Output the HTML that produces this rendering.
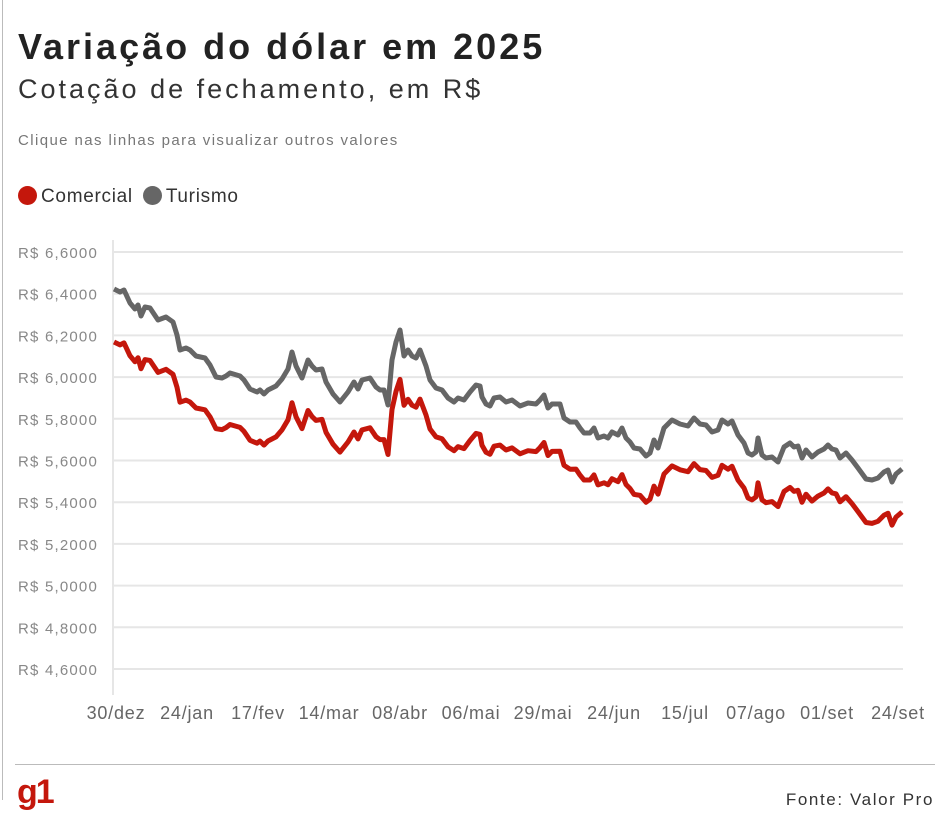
<!DOCTYPE html>
<html><head><meta charset="utf-8"><style>
body{margin:0;width:950px;height:815px;background:#fff;font-family:"Liberation Sans",sans-serif;position:relative;overflow:hidden}
.t{position:absolute;left:18px;white-space:nowrap}
</style></head><body>
<div style="position:absolute;left:2px;top:0;width:1px;height:800px;background:#bbb"></div>
<div class="t" style="top:26px;font-size:36px;font-weight:bold;color:#222;letter-spacing:3px">Variação do dólar em 2025</div>
<div class="t" style="top:74px;font-size:27px;color:#333;letter-spacing:3px">Cotação de fechamento, em R$</div>
<div class="t" style="top:132px;font-size:15px;color:#777;letter-spacing:1.4px">Clique nas linhas para visualizar outros valores</div>
<div class="t" style="top:186px;font-size:19px;color:#333;letter-spacing:0.7px"><span style="display:inline-block;width:19px;height:19px;border-radius:50%;background:#c4170c;vertical-align:-3px;margin-right:4px"></span>Comercial <span style="display:inline-block;width:19px;height:19px;border-radius:50%;background:#666;vertical-align:-3px;margin:0 4px 0 4px"></span>Turismo</div>
<svg id="s" width="950" height="815" style="position:absolute;left:0;top:0" font-family="Liberation Sans, sans-serif"></svg>
<div style="position:absolute;left:15px;top:764px;width:920px;height:1px;background:#bbb"></div>
<div style="position:absolute;left:17px;top:773px;font-size:34px;font-weight:bold;color:#c4170c;letter-spacing:-2px">g1</div>
<div style="position:absolute;right:16px;top:790px;font-size:17px;color:#333;letter-spacing:1.6px">Fonte: Valor Pro</div>
<script>
var s=document.getElementById('s'),h='';
var labs=['6,6000','6,4000','6,2000','6,0000','5,8000','5,6000','5,4000','5,2000','5,0000','4,8000','4,6000'];
for(var i=0;i<11;i++){var y=252+i*41.7;h+='<line x1="112" x2="903" y1="'+y+'" y2="'+y+'" stroke="#e6e6e6" stroke-width="2"/>';h+='<text x="18" y="'+(y+6)+'" font-size="15" letter-spacing="1.2" fill="#888">R$ '+labs[i]+'</text>';}
h+='<line x1="113" x2="113" y1="240" y2="695" stroke="#e6e6e6" stroke-width="2"/>';
var xl=[['30/dez',116],['24/jan',187],['17/fev',258],['14/mar',329],['08/abr',400],['06/mai',471],['29/mai',543],['24/jun',614],['15/jul',685],['07/ago',756],['01/set',827],['24/set',898]];
xl.forEach(function(a){h+='<text x="'+a[1]+'" y="719" font-size="18" letter-spacing="0.8" fill="#666" text-anchor="middle">'+a[0]+'</text>';});
var g=[114,289,120,292,124,290,130,303,135,309,138,305,141,316,145,307,150,308,158,320,166,317,173,322,177,335,180,350,186,348,190,350,196,356,205,358,210,365,216,377,222,378,226,376,230,373,240,376,244,380,246,383,250,389,257,392,260,390,264,394,268,390,276,386,282,379,288,369,292,352,296,366,302,378,308,360,312,366,316,370,322,369,326,382,333,394,340,402,348,392,354,382,358,389,362,380,370,378,376,387,380,390,384,390,388,405,392,360,396,342,400,330,404,356,408,350,412,356,416,358,420,350,426,366,430,380,436,388,442,390,448,398,454,402,458,398,464,400,470,392,476,385,480,386,482,397,486,404,490,406,494,398,500,397,506,402,512,400,520,406,528,403,536,404,540,400,544,395,548,408,552,404,560,404,564,418,570,422,576,422,580,428,584,433,590,433,594,428,598,438,604,436,608,438,612,432,618,435,622,428,626,438,630,442,634,448,640,449,646,456,650,453,654,440,658,448,664,428,672,420,680,424,688,426,694,418,700,424,706,425,712,432,718,430,722,420,728,424,732,421,738,435,744,443,748,453,752,455,756,452,758,438,762,455,766,458,772,457,778,462,784,447,790,443,794,447,798,446,802,458,806,450,812,457,818,452,824,449,828,445,832,449,836,450,840,458,846,453,852,460,858,468,866,479,872,480,878,478,884,472,888,470,892,482,896,474,902,469];
var gp='',rp='';
for(var i=0;i<g.length;i+=2){var x=g[i],y=g[i+1];gp+=x+','+y+' ';var off=53-10*(x-114)/788;rp+=x+','+(y+off).toFixed(1)+' ';}
h+='<polyline points="'+gp+'" fill="none" stroke="#666" stroke-width="5" stroke-linejoin="round"/>';
h+='<polyline points="'+rp+'" fill="none" stroke="#c4170c" stroke-width="5" stroke-linejoin="round"/>';
s.innerHTML=h;
</script>
</body></html>
